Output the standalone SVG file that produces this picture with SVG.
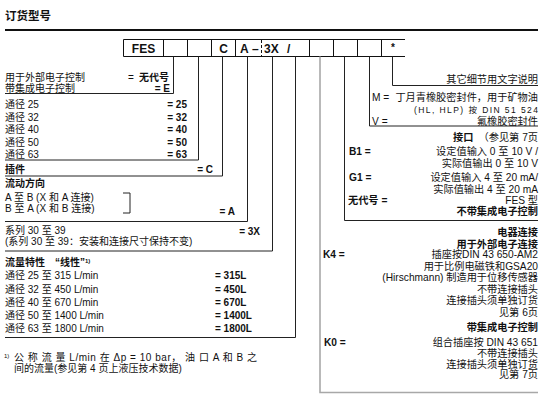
<svg xmlns="http://www.w3.org/2000/svg" width="557" height="407" viewBox="0 0 557 407">
<style>
.t{font-family:"Liberation Sans","Noto Sans CJK SC",sans-serif;font-size:10px;fill:#111}
.rt{font-size:10.2px}
.b{font-weight:bold}
.r{text-anchor:end}
.m{text-anchor:middle}
.s{font-size:8.5px}
.bx{font-family:"Liberation Sans Narrow","Liberation Sans",sans-serif;font-size:12px;font-weight:bold;fill:#111}
.box{fill:none;stroke:#111;stroke-width:1}
.ln{fill:none;stroke:#222;stroke-width:1}
.gl{fill:none;stroke:#a8a8a8;stroke-width:1.6}
</style>
<rect width="557" height="407" fill="#fff"/>
<g id="title">
<text class="t b" x="5" y="20" style="font-size:11.5px">订货型号</text>
<line x1="5" y1="30" x2="538" y2="30" stroke="#111" stroke-width="2"/>
</g>
<g id="code-boxes">
<path class="box" d="M123.5 39.5H405M123.5 56.5H405M123.5 39.5V56.5M163.5 39.5V56.5M187.5 39.5V56.5M211.5 39.5V56.5M235.5 39.5V56.5M309.5 39.5V56.5M333.5 39.5V56.5M357.5 39.5V56.5M381.5 39.5V56.5"/>
<line x1="261.5" y1="40" x2="261.5" y2="56" stroke="#111" stroke-width="1" stroke-dasharray="3,2"/>
<text class="bx m" x="143.5" y="52.5">FES</text>
<text class="bx m" x="223.5" y="52.5">C</text>
<text class="bx" x="240" y="52.5">A</text>
<text class="bx" x="252" y="52.5">–</text>
<text class="bx" x="264" y="52.5">3X</text>
<text class="bx" x="287" y="52.5">/</text>
<text class="bx m" x="393" y="51" style="font-size:10px">*</text>
</g>
<g id="connectors">
<path class="ln" d="M173.5 56.5V93.5H5"/>
<path class="ln" d="M198.5 56.5V160H5"/>
<path class="ln" d="M222.5 56.5V176H5"/>
<path class="ln" d="M247.5 56.5V221.5H5"/>
<path class="ln" d="M272.5 56.5V251H5"/>
<path class="ln" d="M295.5 56.5V337.5H5"/>
<path class="gl" d="M320 56.5V392.5H538"/>
<path class="ln" d="M344.5 56.5V220.5H538"/>
<path class="ln" d="M369.5 56.5V126H538"/>
<path class="ln" d="M392.5 56.5V85.5H538"/>
</g>
<g id="node-control">
<text class="t" x="5" y="81">用于外部电子控制</text>
<text class="t" x="128" y="81">=</text>
<text class="t b" x="139" y="81">无代号</text>
<text class="t" x="5" y="91.5">带集成电子控制</text>
<text class="t b r" x="170" y="91.5">= E</text>
</g>
<g id="node-size">
<text class="t" x="5" y="108">通径 25</text>
<text class="t" x="5" y="120.5">通径 32</text>
<text class="t" x="5" y="133">通径 40</text>
<text class="t" x="5" y="145.5">通径 50</text>
<text class="t" x="5" y="158">通径 63</text>
<text class="t b r" x="187" y="108">= 25</text>
<text class="t b r" x="187" y="120.5">= 32</text>
<text class="t b r" x="187" y="133">= 40</text>
<text class="t b r" x="187" y="145.5">= 50</text>
<text class="t b r" x="187" y="158">= 63</text>
</g>
<g id="node-insert">
<text class="t b" x="5" y="173">插件</text>
<text class="t b r" x="213" y="173">= C</text>
</g>
<g id="node-flow-direction">
<text class="t b" x="5" y="187">流动方向</text>
<text class="t" x="5" y="200.5">A 至 B (X 和 A 连接)</text>
<text class="t" x="5" y="212">B 至 A (X 和 B 连接)</text>
<path class="ln" d="M123 193H130V213H123"/>
<text class="t b r" x="235" y="215">= A</text>
</g>
<g id="node-series">
<text class="t" x="5" y="234">系列 30 至 39</text>
<text class="t b r" x="260" y="234.5">= 3X</text>
<text class="t" x="5" y="245">(系列 30 至 39：安装和连接尺寸保持不变)</text>
</g>
<g id="node-flow-characteristic">
<text class="t b" x="5" y="266">流量特性　“线性”<tspan dy="-3" style="font-size:6px">1)</tspan></text>
<text class="t" x="5" y="279">通径 25 至 315 L/min</text>
<text class="t" x="5" y="292.5">通径 32 至 450 L/min</text>
<text class="t" x="5" y="306">通径 40 至 670 L/min</text>
<text class="t" x="5" y="319">通径 50 至 1400 L/min</text>
<text class="t" x="5" y="332">通径 63 至 1800 L/min</text>
<text class="t b" x="215" y="279">= 315L</text>
<text class="t b" x="215" y="292.5">= 450L</text>
<text class="t b" x="215" y="306">= 670L</text>
<text class="t b" x="215" y="319">= 1400L</text>
<text class="t b" x="215" y="332">= 1800L</text>
</g>
<g id="footnote">
<text class="t" x="4" y="358" style="font-size:6px">1)</text>
<text class="t" x="14" y="361" textLength="243" lengthAdjust="spacing">公 称 流 量 L/min 在 Δp = 10 bar， 油 口 A 和 B 之</text>
<text class="t" x="14" y="372">间的流量(参见第 4 页上液压技术数据)</text>
</g>
<g id="node-details">
<text class="t rt r" x="538" y="83">其它细节用文字说明</text>
</g>
<g id="node-seal">
<text class="t rt" x="372" y="101">M =</text>
<text class="t rt r" x="538" y="101">丁月青橡胶密封件，用于矿物油</text>
<text class="t s r" x="538" y="113" textLength="124" lengthAdjust="spacing">(HL, HLP) 按 DIN 51 524</text>
<text class="t rt" x="372" y="124.5">V =</text>
<text class="t rt r" x="538" y="124.5">氟橡胶密封件</text>
</g>
<g id="node-interface">
<text class="t rt r" x="538" y="141"><tspan class="b">接口</tspan>　（参见第 7页</text>
<text class="t rt b" x="349" y="155">B1 =</text>
<text class="t rt r" x="538" y="155">设定值输入 0 至 10 V /</text>
<text class="t rt r" x="538" y="167">实际值输出 0 至 10 V</text>
<text class="t rt b" x="349" y="181">G1 =</text>
<text class="t rt r" x="538" y="181">设定值输入 4 至 20 mA/</text>
<text class="t rt r" x="538" y="192.5">实际值输出 4 至 20 mA</text>
<text class="t rt b" x="348" y="204">无代号 =</text>
<text class="t rt r" x="538" y="204">FES 型</text>
<text class="t rt b r" x="538" y="215">不带集成电子控制</text>
</g>
<g id="node-electrical">
<text class="t rt b r" x="538" y="235.5">电器连接</text>
<text class="t rt b r" x="538" y="247.5">用于外部电子连接</text>
<text class="t rt b" x="323" y="258">K4 =</text>
<text class="t rt r" x="538" y="258">插座按DIN 43 650-AM2</text>
<text class="t rt r" x="538" y="269.5">用于比例电磁铁和GSA20</text>
<text class="t rt r" x="538" y="281">(Hirschmann) 制造用于位移传感器</text>
<text class="t rt r" x="538" y="292.5">不带连接插头</text>
<text class="t rt r" x="538" y="304">连接插头须单独订货</text>
<text class="t rt r" x="538" y="316">见第 6页</text>
<text class="t rt b r" x="538" y="331">带集成电子控制</text>
<text class="t rt b" x="324" y="346">K0 =</text>
<text class="t rt r" x="538" y="346">组合插座按 DIN 43 651</text>
<text class="t rt r" x="538" y="357">不带连接插头</text>
<text class="t rt r" x="538" y="367.5">连接插头须单独订货</text>
<text class="t rt r" x="538" y="378">见第 7页</text>
</g>
</svg>
